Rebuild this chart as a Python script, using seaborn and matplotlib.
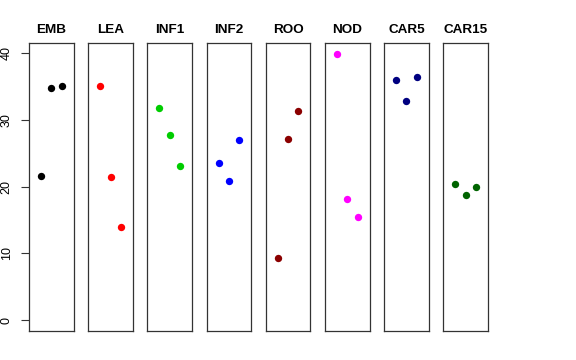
import matplotlib
matplotlib.use('Agg')
import matplotlib.pyplot as plt
import pandas as pd
import seaborn as sns

# Values, three replicates per tissue
tissues = ['EMB', 'LEA', 'INF1', 'INF2', 'ROO', 'NOD', 'CAR5', 'CAR15']
replicate = [1, 2, 3]
emb = [21.6, 34.8, 35.1]
lea = [35.0, 21.4, 14.0]
inf1 = [31.8, 27.8, 23.1]
inf2 = [23.6, 20.8, 27.0]
roo = [9.3, 27.2, 31.3]
nod = [39.9, 18.2, 15.4]
car5 = [35.9, 32.8, 36.4]
car15 = [20.4, 18.8, 19.9]
colors = ['black', 'red', '#00CD00', 'blue', '#8B0000', 'magenta', '#000080', '#006400']

values = [emb, lea, inf1, inf2, roo, nod, car5, car15]
df = pd.DataFrame({
    'tissue': [t for t in tissues for _ in replicate],
    'rep': replicate * len(tissues),
    'value': [v for vals in values for v in vals],
})

sns.set_style('white')
plt.rcParams['font.family'] = ['Liberation Sans', 'DejaVu Sans']
plt.rcParams['text.color'] = 'black'
plt.rcParams['ytick.color'] = 'black'

fig, axes = plt.subplots(1, len(tissues), figsize=(5.76, 3.6), dpi=100, sharey=True)
fig.subplots_adjust(left=29 / 576, right=488 / 576, top=1 - 43 / 360, bottom=1 - 331 / 360, wspace=0.32)

for ax, tissue, col in zip(axes, tissues, colors):
    sub = df[df['tissue'] == tissue]
    sns.scatterplot(data=sub, x='rep', y='value', color=col, s=28, linewidth=0, ax=ax)
    ax.set_xlim(-0.16, 4.16)
    ax.set_ylim(-1.6, 41.5)
    ax.set_xticks([])
    ax.set_xlabel('')
    ax.set_ylabel('')
    ax.set_title(tissue, fontsize=9.7, fontweight='bold', pad=7, color='black')
    for sp in ax.spines.values():
        sp.set_visible(True)
        sp.set_color('#333333')
        sp.set_linewidth(0.9)
    ax.tick_params(axis='y', left=False)

axes[0].set_yticks([0, 10, 20, 30, 40])
axes[0].tick_params(axis='y', left=True, length=5.8, width=0.8, color='#333333',
                    labelsize=9, labelrotation=90, pad=6, labelcolor='black')
for lab in axes[0].get_yticklabels():
    lab.set_verticalalignment('center')

fig.savefig('out.png', dpi=100)
